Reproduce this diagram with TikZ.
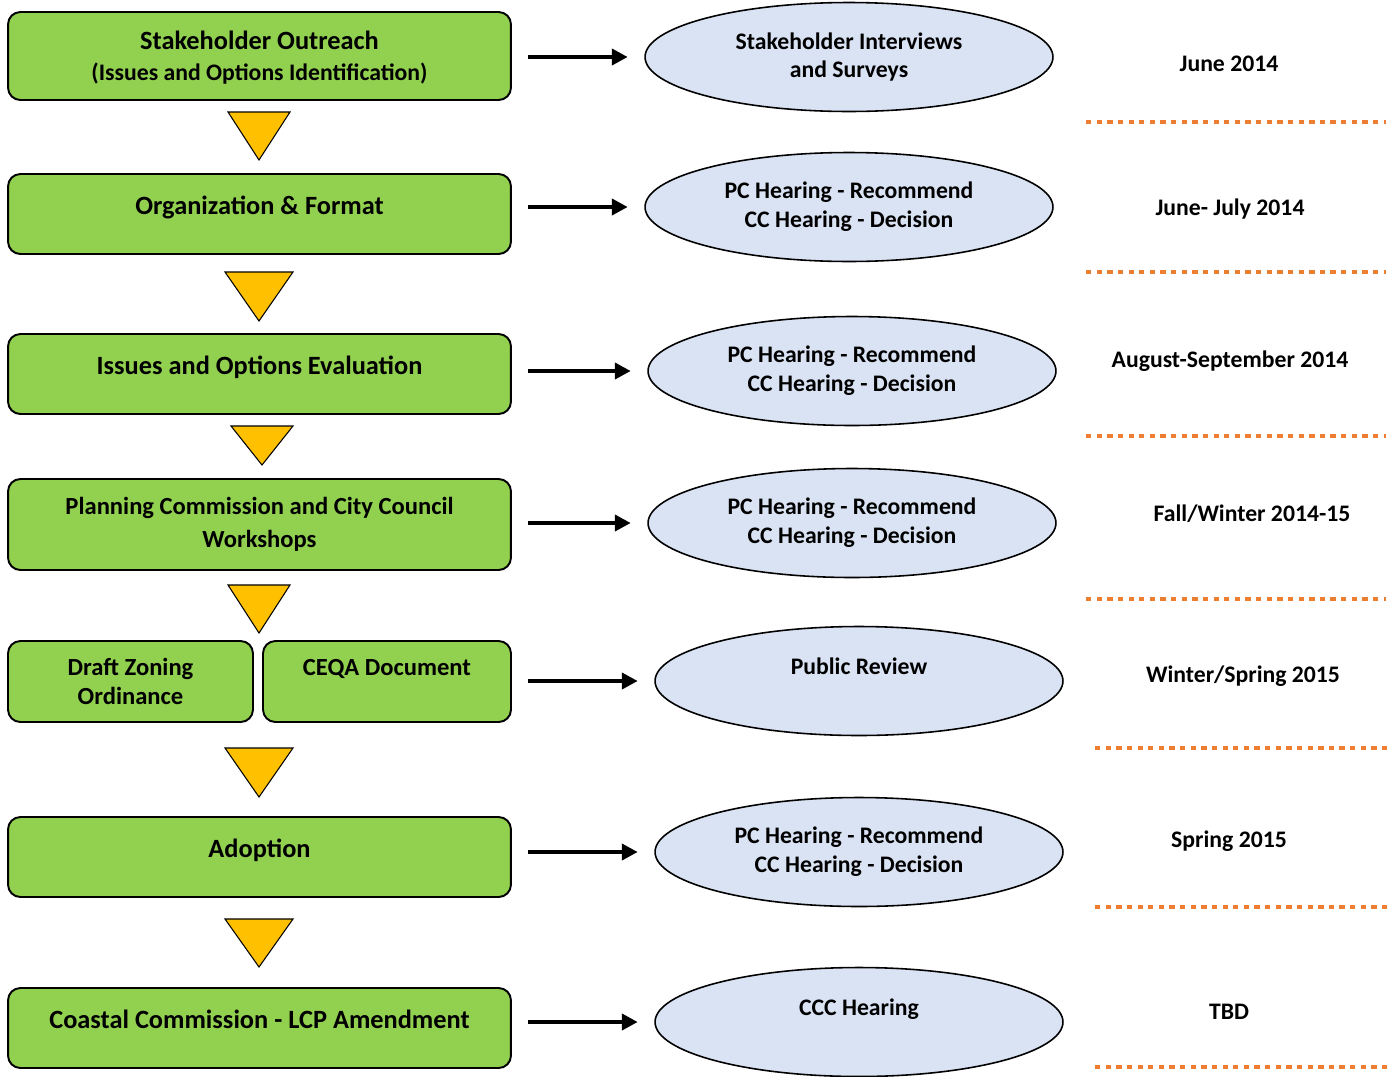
\documentclass[tikz,border=0pt]{standalone}
\usepackage{fontspec}
\setmainfont{Carlito}
\usetikzlibrary{shapes.geometric, arrows.meta}
\definecolor{stagegreen}{HTML}{92D050}
\definecolor{gateyellow}{HTML}{FFC000}
\definecolor{hearblue}{HTML}{DAE3F3}
\definecolor{dateorange}{HTML}{ED7D31}

\begin{document}
\begin{tikzpicture}[x=0.02cm, y=-0.02cm,
  stage/.style={draw, line width=1.1pt, rounded corners=7pt, fill=stagegreen,
    minimum width=10.06cm, minimum height=1.6cm, align=center, inner sep=2pt,
    font=\fontsize{15}{17.6}\selectfont\bfseries},
  lifted/.style={text depth=0.34cm},
  hearing/.style={draw, line width=0.9pt, ellipse, fill=hearblue, inner sep=0pt,
    minimum width=8.16cm, minimum height=2.18cm, align=center,
    font=\fontsize{13.5}{16.4}\selectfont\bfseries},
  when/.style={font=\fontsize{13.5}{16}\selectfont\bfseries},
  gate/.style={draw, line width=0.6pt, fill=gateyellow, line join=miter},
  flow/.style={-{Triangle[length=9pt, width=9pt]}, line width=2.4pt,
    shorten <=0.33cm, shorten >=0.33cm},
  sep/.style={dateorange, line width=2.8pt, dash pattern=on 3pt off 3.05pt}]
\useasboundingbox (0,0) rectangle (1393,1076);

% process stages
\node[stage, minimum height=1.76cm, text depth=0pt] (s1) at (259.5,56)
  {Stakeholder Outreach\\{\fontsize{13.5}{16}\selectfont (Issues and Options Identification)}};
\node[stage, lifted] (s2) at (259.5,214) {Organization \& Format};
\node[stage, lifted] (s3) at (259.5,374) {Issues and Options Evaluation};
\node[stage, minimum height=1.82cm, font=\fontsize{14}{19}\selectfont\bfseries] (s4) at (259.5,524.5)
  {Planning Commission and City Council\\Workshops};
\node[stage, minimum width=4.9cm, minimum height=1.62cm, font=\fontsize{14}{16.5}\selectfont\bfseries]
  (s5a) at (130.5,681.5) {Draft Zoning\\Ordinance};
\node[stage, minimum width=4.96cm, minimum height=1.62cm, font=\fontsize{14}{16.5}\selectfont\bfseries]
  (s5b) at (387,681.5) {CEQA Document\\\mbox{}};
\node[stage, lifted] (s6) at (259.5,857) {Adoption};
\node[stage, lifted] (s7) at (259.5,1028) {Coastal Commission - LCP Amendment};

% hearings
\node[hearing] (h1) at (849,57) {Stakeholder Interviews\\and Surveys};
\node[hearing] (h2) at (849,207) {PC Hearing - Recommend\\CC Hearing - Decision};
\node[hearing] (h3) at (852,371) {PC Hearing - Recommend\\CC Hearing - Decision};
\node[hearing] (h4) at (852,523) {PC Hearing - Recommend\\CC Hearing - Decision};
\node[hearing] (h5) at (859,681) {Public Review\\\mbox{}};
\node[hearing] (h6) at (859,852) {PC Hearing - Recommend\\CC Hearing - Decision};
\node[hearing] (h7) at (859,1022) {CCC Hearing\\\mbox{}};

% dates
\node[when] (d1) at (1229,64) {June 2014};
\node[when] (d2) at (1230,209) {June- July 2014};
\node[when] (d3) at (1230,361) {August-September 2014};
\node[when] (d4) at (1252,514) {Fall/Winter 2014-15};
\node[when] (d5) at (1243,676) {Winter/Spring 2015};
\node[when] (d6) at (1229,841) {Spring 2015};
\node[when] (d7) at (1229,1012) {TBD};

% stage to hearing
\draw[flow] (s1.east |- h1) -- (h1);
\draw[flow] (s2.east |- h2) -- (h2);
\draw[flow] (s3.east |- h3) -- (h3);
\draw[flow] (s4.east |- h4) -- (h4);
\draw[flow] (s5b.east |- h5) -- (h5);
\draw[flow] (s6.east |- h6) -- (h6);
\draw[flow] (s7.east |- h7) -- (h7);

% down triangles between stages
\draw[gate] (228,112) -- (290,112) -- (259,160) -- cycle;
\draw[gate] (225,272) -- (293,272) -- (259,321) -- cycle;
\draw[gate] (231,426) -- (293,426) -- (262,465) -- cycle;
\draw[gate] (228,585) -- (290,585) -- (259,633) -- cycle;
\draw[gate] (225,748) -- (293,748) -- (259,797) -- cycle;
\draw[gate] (225,919) -- (293,919) -- (259,967) -- cycle;

% dotted separators
\draw[sep] (1086,122) -- (1386,122);
\draw[sep] (1086,272) -- (1386,272);
\draw[sep] (1086,436) -- (1386,436);
\draw[sep] (1086,599) -- (1386,599);
\draw[sep] (1095,748) -- (1388,748);
\draw[sep] (1095,907) -- (1388,907);
\draw[sep] (1095,1067) -- (1388,1067);
\end{tikzpicture}
\end{document}
